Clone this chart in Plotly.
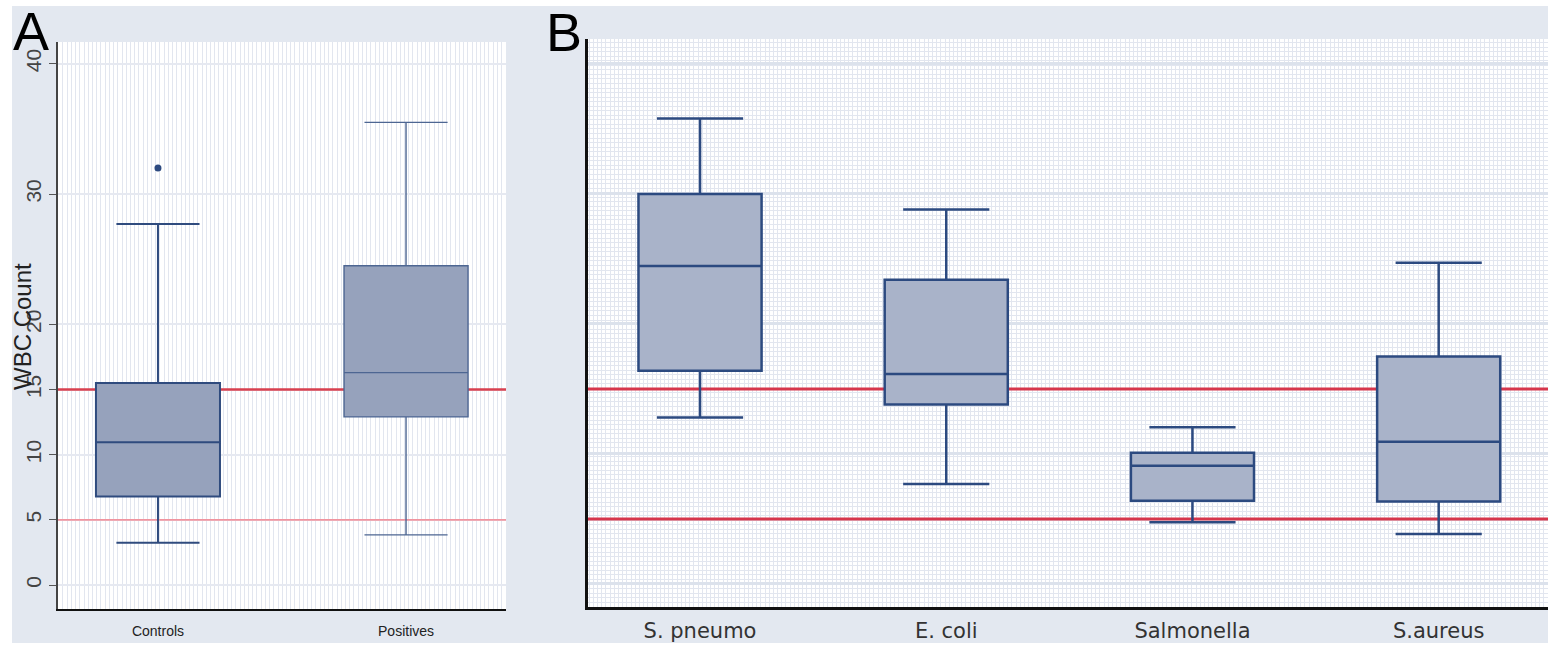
import plotly.graph_objects as go

W, H = 1548, 649

# ---------------- data ----------------
groups_a = ["Controls", "Positives"]
a_lower = [3.25, 3.85]
a_q1 = [6.8, 12.9]
a_median = [10.95, 16.3]
a_q3 = [15.5, 24.5]
a_upper = [27.7, 35.5]
a_outlier_group = ["Controls"]
a_outlier_value = [32.0]

groups_b = ["S. pneumo", "E. coli", "Salmonella", "S.aureus"]
b_lower = [12.8, 7.7, 4.75, 3.85]
b_q1 = [16.4, 13.8, 6.4, 6.35]
b_median = [24.45, 16.15, 9.1, 10.95]
b_q3 = [30.0, 23.4, 10.1, 17.5]
b_upper = [35.8, 28.8, 12.05, 24.7]

ref_lines = [5, 15]
a_y_ticks = [0, 5, 10, 15, 20, 30, 40]
b_y_grid = [0, 10, 20, 30, 40]

# axis ranges (layout)
a_xrange = [-0.403, 1.403]
a_yrange = [-1.84, 41.67]
b_xrange = [-0.455, 3.444]
b_yrange = [-1.77, 41.92]


def px_x(p):
    return p / W


def px_y(p):
    return 1 - p / H


fig = go.Figure()

# ---------------- reference lines (base subplots, above gridlines) ----------------
a_ref_styles = {5: ("#F0949F", 1.8), 15: ("#D8404F", 2.6)}
for v in ref_lines:
    c, w = a_ref_styles[v]
    fig.add_trace(go.Scatter(x=a_xrange, y=[v, v], mode="lines",
                             line=dict(color=c, width=w),
                             xaxis="x", yaxis="y", showlegend=False, hoverinfo="skip"))
    fig.add_trace(go.Scatter(x=b_xrange, y=[v, v], mode="lines",
                             line=dict(color="#D6364C", width=3),
                             xaxis="x2", yaxis="y2", showlegend=False, hoverinfo="skip"))

# ---------------- panel A boxes (overlay subplot x3/y3) ----------------
a_line_colors = ["#2F4B7E", "#4D6692"]
a_line_widths = [2, 1.4]
for i, g in enumerate(groups_a):
    fig.add_trace(go.Box(
        x=[i], q1=[a_q1[i]], median=[a_median[i]], q3=[a_q3[i]],
        lowerfence=[a_lower[i]], upperfence=[a_upper[i]],
        name=g, width=0.5, whiskerwidth=0.67, boxpoints=False,
        fillcolor="#96A2BC",
        line=dict(color=a_line_colors[i], width=a_line_widths[i]),
        xaxis="x3", yaxis="y3", showlegend=False, hoverinfo="skip",
    ))

fig.add_trace(go.Scatter(
    x=[groups_a.index(g) for g in a_outlier_group], y=a_outlier_value,
    mode="markers", marker=dict(color="#2D4A80", size=7, symbol="circle"),
    xaxis="x3", yaxis="y3", showlegend=False, hoverinfo="skip",
))

# ---------------- panel B boxes (overlay subplot x4/y4) ----------------
for i, g in enumerate(groups_b):
    fig.add_trace(go.Box(
        x=[i], q1=[b_q1[i]], median=[b_median[i]], q3=[b_q3[i]],
        lowerfence=[b_lower[i]], upperfence=[b_upper[i]],
        name=g, width=0.5, whiskerwidth=0.7, boxpoints=False,
        fillcolor="#A9B3C9",
        line=dict(color="#2C4A80", width=2.5),
        xaxis="x4", yaxis="y4", showlegend=False, hoverinfo="skip",
    ))

# ---------------- shapes ----------------
shapes = [
    dict(type="rect", xref="paper", yref="paper", x0=0, x1=1, y0=px_y(6), y1=1,
         fillcolor="white", line=dict(width=0), layer="above"),
    dict(type="rect", xref="paper", yref="paper", x0=0, x1=1, y0=0, y1=px_y(643),
         fillcolor="white", line=dict(width=0), layer="above"),
    dict(type="rect", xref="paper", yref="paper", x0=0, x1=px_x(12), y0=0, y1=1,
         fillcolor="white", line=dict(width=0), layer="above"),
]

annotations = [
    dict(text="A", x=px_x(31), y=px_y(31), xref="paper", yref="paper",
         showarrow=False, xanchor="center", yanchor="middle",
         font=dict(family="Liberation Sans", size=54, color="#000")),
    dict(text="B", x=px_x(564), y=px_y(32), xref="paper", yref="paper",
         showarrow=False, xanchor="center", yanchor="middle",
         font=dict(family="Liberation Sans", size=54, color="#000")),
    dict(text="WBC Count", x=px_x(22), y=px_y(327), xref="paper", yref="paper",
         showarrow=False, xanchor="center", yanchor="middle", textangle=-90,
         font=dict(family="Liberation Sans", size=24, color="#222")),
]

hidden = dict(visible=False, showgrid=False, zeroline=False, fixedrange=True)

fig.update_layout(
    width=W, height=H, autosize=False,
    margin=dict(l=0, r=0, t=0, b=0),
    paper_bgcolor="#E3E8F0", plot_bgcolor="white",
    showlegend=False, boxmode="overlay",
    shapes=shapes, annotations=annotations,
    xaxis=dict(
        domain=[px_x(58), px_x(506)], range=a_xrange,
        tickmode="array", tickvals=list(range(len(groups_a))), ticktext=groups_a,
        ticks="outside", ticklen=8, tickcolor="rgba(0,0,0,0)",
        tickfont=dict(family="Liberation Sans", size=14, color="#222"),
        showgrid=False, zeroline=False,
        showline=True, linecolor="#111", linewidth=2,
        minor=dict(tickmode="linear", tick0=-0.4, dtick=0.017, showgrid=True,
                   gridcolor="#E2E6EF", gridwidth=1, ticks=""),
        automargin=False, fixedrange=True, anchor="y",
    ),
    yaxis=dict(
        domain=[px_y(609), px_y(42)], range=a_yrange,
        tickmode="array", tickvals=a_y_ticks,
        tickangle=-90, ticks="outside", ticklen=7, tickcolor="#555",
        tickfont=dict(family="Liberation Sans", size=21, color="#444"),
        showgrid=True, gridcolor="#E6E9F1", gridwidth=2, zeroline=False,
        showline=True, linecolor="#444", linewidth=1.5,
        automargin=False, fixedrange=True, anchor="x",
    ),
    xaxis3=dict(overlaying="x", range=a_xrange, anchor="y3", **hidden),
    yaxis3=dict(overlaying="y", range=a_yrange, anchor="x3", **hidden),
    xaxis2=dict(
        domain=[px_x(588), 1], range=b_xrange,
        tickmode="array", tickvals=list(range(len(groups_b))), ticktext=groups_b,
        ticks="outside", ticklen=3, tickcolor="rgba(0,0,0,0)",
        tickfont=dict(family="DejaVu Sans", size=21, color="#333"),
        showgrid=False, zeroline=False,
        showline=True, linecolor="#111", linewidth=2.5,
        minor=dict(tickmode="linear", tick0=-0.45, dtick=0.017, showgrid=True,
                   gridcolor="#E2E6EF", gridwidth=1, ticks=""),
        automargin=False, fixedrange=True, anchor="y2",
    ),
    yaxis2=dict(
        domain=[px_y(607), px_y(39)], range=b_yrange,
        tickmode="array", tickvals=b_y_grid, showticklabels=False, ticks="",
        showgrid=True, gridcolor="#DCE2EC", gridwidth=2.5, zeroline=False,
        showline=True, linecolor="#111", linewidth=2.5,
        minor=dict(tickmode="linear", tick0=0, dtick=0.35, showgrid=True,
                   gridcolor="#E2E6EF", gridwidth=1, ticks=""),
        automargin=False, fixedrange=True, anchor="x2",
    ),
    xaxis4=dict(overlaying="x2", range=b_xrange, anchor="y4", **hidden),
    yaxis4=dict(overlaying="y2", range=b_yrange, anchor="x4", **hidden),
)

fig.write_html("out.html", config={"displayModeBar": False},
               post_script="document.body.style.margin='0px';")
